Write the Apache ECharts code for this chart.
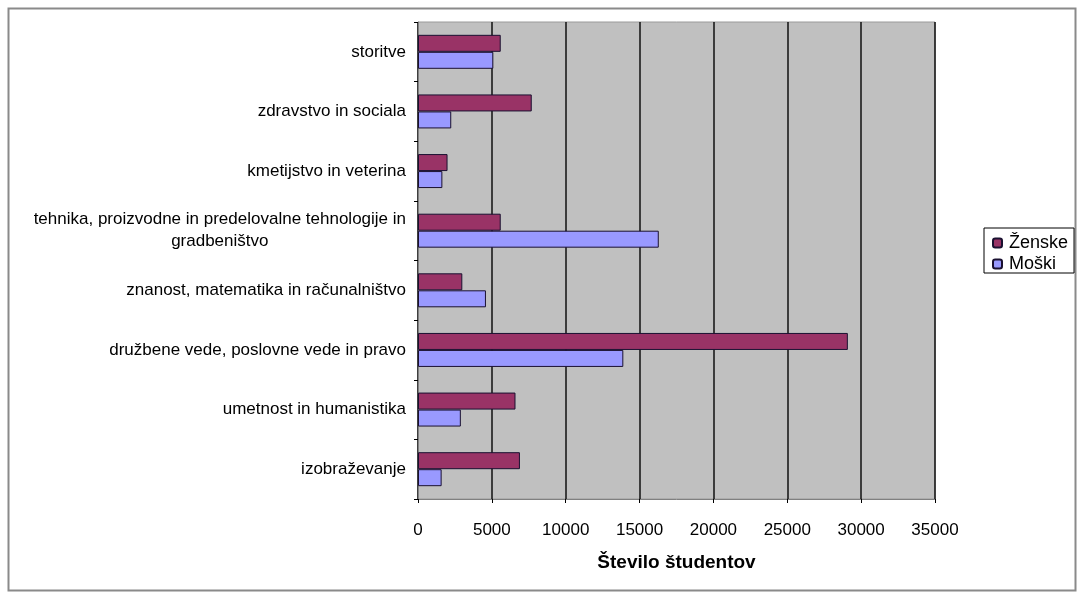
<!DOCTYPE html>
<html><head><meta charset="utf-8">
<script src="https://cdn.jsdelivr.net/npm/echarts@6/dist/echarts.min.js"></script>
<style>html,body{margin:0;padding:0;background:#fff}#c{width:1083px;height:596px}</style>
</head><body><div id="c"></div>
<script>
var categories = ['izobraževanje','umetnost in humanistika','družbene vede, poslovne vede in pravo','znanost, matematika in računalništvo','tehnika, proizvodne in predelovalne tehnologije in\ngradbeništvo','kmetijstvo in veterina','zdravstvo in sociala','storitve'];
var zenske = [6900, 6600, 29100, 3000, 5600, 2000, 7700, 5600];
var moski  = [1600, 2900, 13900, 4600, 16300, 1650, 2250, 5100];
var seriesNames = ['Ženske','Moški'];
var xTicks = [0, 5000, 10000, 15000, 20000, 25000, 30000, 35000];

var chart = echarts.init(document.getElementById('c'));
var font = 'Liberation Sans, Arial, sans-serif';
chart.setOption({
  animation: false,
  graphic: [{type:'rect', shape:{x:8.5,y:8.5,width:1067,height:582}, style:{fill:'none', stroke:'#8a8a8a', lineWidth:2}, z:-1}],
  grid: {left:418, right:148, top:22, bottom:97, show:true, backgroundColor:'#c0c0c0', borderColor:'#9a9a9a', borderWidth:1},
  legend: {
    orient:'vertical', left:984, top:228, data:seriesNames,
    backgroundColor:'#fff', borderColor:'#000', borderWidth:1, padding:[6,6,0,8],
    itemWidth:9, itemHeight:9, itemGap:3,
    textStyle:{fontFamily:font, fontSize:18, color:'#000', padding:[0,0,0,2]}
  },
  xAxis: {
    type:'value', min:xTicks[0], max:xTicks[xTicks.length-1], interval:5000,
    name:'Število študentov', nameLocation:'middle', nameGap:54,
    nameTextStyle:{fontFamily:font, fontSize:19, fontWeight:'bold', color:'#000'},
    axisLine:{show:true, lineStyle:{color:'#808080'}},
    axisTick:{show:true, length:4, lineStyle:{color:'#000'}},
    axisLabel:{fontFamily:font, fontSize:17, color:'#000', margin:23, formatter:function(v){return String(v);}},
    splitLine:{show:true, lineStyle:{color:'#111', width:1.5}}
  },
  yAxis: {
    type:'category', data:categories,
    axisLine:{show:true, lineStyle:{color:'#808080'}},
    axisTick:{show:true, length:4, lineStyle:{color:'#000'}},
    axisLabel:{fontFamily:font, fontSize:17, color:'#000', margin:12,
      formatter:function(v){return '{c|'+v.split('\n').join('}\n{c|')+'}';},
      rich:{c:{align:'center', fontFamily:font, fontSize:17, color:'#000', lineHeight:22}}
    }
  },
  series: [
    {name:seriesNames[0], type:'bar', data:zenske, barGap:'0%', barCategoryGap:'43%',
     itemStyle:{color:'#993366', borderColor:'#1a1030', borderWidth:1}},
    {name:seriesNames[1], type:'bar', data:moski, barGap:'0%', barCategoryGap:'43%',
     itemStyle:{color:'#9999ff', borderColor:'#1a1030', borderWidth:1}}
  ]
});
</script></body></html>
